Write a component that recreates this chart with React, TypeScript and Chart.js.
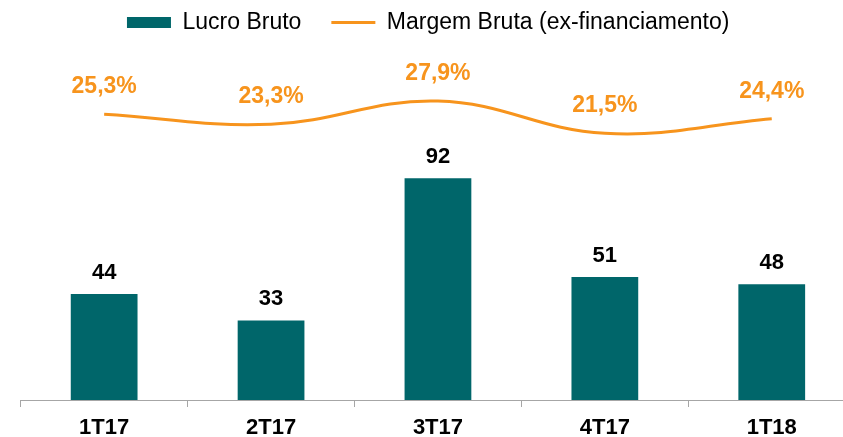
import { useEffect, useRef } from 'react';
import { Chart, registerables } from 'chart.js';

Chart.register(...registerables);

const categories = ['1T17', '2T17', '3T17', '4T17', '1T18'];
const lucroBruto = [44, 33, 92, 51, 48];
const margemBruta = [25.3, 23.3, 27.9, 21.5, 24.4];
const seriesLabels = ['Lucro Bruto', 'Margem Bruta (ex-financiamento)'];

const TEAL = '#00666A';
const ORANGE = '#F7941D';
const AXIS = '#A6A6A6';
const FONT = "Arial, 'Liberation Sans', sans-serif";

const valueLabels = {
  id: 'valueLabels',
  afterDatasetsDraw(chart: any) {
    const ctx = chart.ctx;
    ctx.save();
    ctx.textAlign = 'center';
    ctx.textBaseline = 'alphabetic';
    const barData = chart.data.datasets[0].data as number[];
    const lineData = chart.data.datasets[1].data as number[];
    ctx.font = `bold 22px ${FONT}`;
    ctx.fillStyle = '#000';
    chart.getDatasetMeta(0).data.forEach((el: any, i: number) => {
      ctx.fillText(String(barData[i]), el.x, el.y - 15.4);
    });
    ctx.font = `bold 23px ${FONT}`;
    ctx.fillStyle = ORANGE;
    chart.getDatasetMeta(1).data.forEach((el: any, i: number) => {
      ctx.fillText(lineData[i].toFixed(1).replace('.', ',') + '%', el.x, el.y - 21);
    });
    ctx.restore();
  },
};

export default function App() {
  const ref = useRef<HTMLCanvasElement>(null);

  useEffect(() => {
    if (!ref.current) return;
    const chart = new Chart(ref.current, {
      type: 'bar',
      data: {
        labels: categories,
        datasets: [
          {
            type: 'bar',
            label: seriesLabels[0],
            data: lucroBruto,
            backgroundColor: TEAL,
            borderWidth: 0,
            yAxisID: 'y',
            barPercentage: 0.4,
            categoryPercentage: 1,
            order: 2,
          } as any,
          {
            type: 'line',
            label: seriesLabels[1],
            data: margemBruta,
            borderColor: ORANGE,
            backgroundColor: ORANGE,
            borderWidth: 3,
            tension: 0.4,
            pointRadius: 0,
            pointHoverRadius: 0,
            fill: false,
            yAxisID: 'y2',
            order: 1,
          } as any,
        ],
      },
      options: {
        responsive: false,
        animation: false,
        devicePixelRatio: 1,
        events: [],
        layout: { padding: { left: 1.2, right: 4.8, top: 0, bottom: 0 } },
        plugins: {
          tooltip: { enabled: false },
          legend: {
            display: true,
            position: 'top',
            align: 'center',
            labels: {
              usePointStyle: true,
              pointStyleWidth: 44,
              boxHeight: 11,
              padding: 30,
              color: '#000',
              font: { family: FONT, size: 23 },
              generateLabels: () => [
                {
                  text: seriesLabels[0],
                  fillStyle: TEAL,
                  strokeStyle: TEAL,
                  lineWidth: 0,
                  pointStyle: 'rect',
                  datasetIndex: 0,
                  hidden: false,
                },
                {
                  text: seriesLabels[1],
                  fillStyle: ORANGE,
                  strokeStyle: ORANGE,
                  lineWidth: 3,
                  pointStyle: 'line',
                  datasetIndex: 1,
                  hidden: false,
                },
              ],
            },
          },
        },
        scales: {
          x: {
            offset: true,
            grid: {
              display: true,
              drawOnChartArea: false,
              drawTicks: true,
              tickLength: 7,
              color: AXIS,
              offset: true,
            },
            border: { display: true, color: AXIS, width: 1 },
            ticks: {
              color: '#000',
              font: { family: FONT, size: 22, weight: 'bold', lineHeight: 1 },
              padding: 10,
              maxRotation: 0,
              autoSkip: false,
            },
          },
          y: {
            display: true,
            position: 'left',
            min: 0,
            max: 147.7,
            grid: { display: false },
            border: { display: false },
            ticks: { display: false },
            afterFit: (s: any) => {
              s.width = 19.5;
            },
          },
          y2: {
            display: false,
            position: 'right',
            min: -31.31,
            max: 39.19,
          },
        },
      } as any,
      plugins: [valueLabels],
    });
    return () => chart.destroy();
  }, []);

  return (
    <div
      style={{
        position: 'fixed',
        left: 0,
        top: 0,
        width: 843,
        height: 437,
        overflow: 'hidden',
        background: '#fff',
      }}
    >
      <canvas
        ref={ref}
        width={860}
        height={468}
        style={{ position: 'absolute', left: 0, top: -19, width: 860, height: 468 }}
      />
    </div>
  );
}
